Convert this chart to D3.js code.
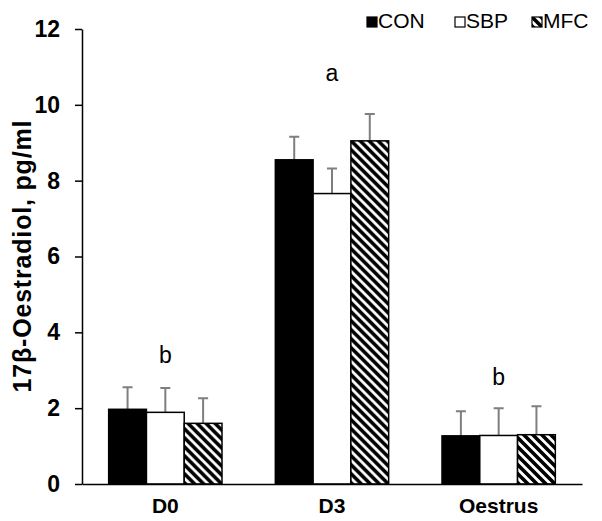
<!DOCTYPE html>
<html>
<head>
<meta charset="utf-8">
<script src="https://cdn.jsdelivr.net/npm/d3@7"></script>
<style>
  body { margin: 0; background: #fff; }
  text { font-family: "Liberation Sans", Arial, sans-serif; }
</style>
</head>
<body>
<div id="chart"></div>
<script>
// chart data
var days = ["D0", "D3", "Oestrus"];
var groups = ["CON", "SBP", "MFC"];
var conMean = [1.97, 8.55, 1.27];
var sbpMean = [1.89, 7.66, 1.28];
var mfcMean = [1.60, 9.05, 1.30];
var conErr = [0.58, 0.61, 0.65];
var sbpErr = [0.64, 0.66, 0.72];
var mfcErr = [0.66, 0.71, 0.75];
var letters = ["b", "a", "b"];
var letterAt = [3.18, 10.63, 2.6];
var yTicks = [0, 2, 4, 6, 8, 10, 12];

var svgWidth = 602;
var svgHeight = 521;

var margin = { top: 29, right: 20, bottom: 37, left: 82 };
var width = 582 - margin.left;
var height = 484 - margin.top;

var svg = d3.select("#chart")
  .append("svg")
  .attr("width", svgWidth)
  .attr("height", svgHeight);

// hatch pattern for MFC
var defs = svg.append("defs");
var pat = defs.append("pattern")
  .attr("id", "hatch")
  .attr("patternUnits", "userSpaceOnUse")
  .attr("width", 9)
  .attr("height", 9);
pat.append("rect").attr("width", 9).attr("height", 9).attr("fill", "#fff");
pat.append("path")
  .attr("d", "M-2,-2 L11,11 M-2,7 L2,11 M7,-2 L11,2")
  .attr("stroke", "#000")
  .attr("stroke-width", 3.6);

var chartGroup = svg.append("g")
  .attr("transform", `translate(${margin.left}, ${margin.top})`);

var fills = { CON: "#000", SBP: "#fff", MFC: "url(#hatch)" };

var rows = days.map(function(d, i) {
  return {
    day: d,
    values: [
      { key: "CON", mean: conMean[i], err: conErr[i] },
      { key: "SBP", mean: sbpMean[i], err: sbpErr[i] },
      { key: "MFC", mean: mfcMean[i], err: mfcErr[i] }
    ]
  };
});

var x0 = d3.scaleBand()
  .domain(days)
  .range([0, width])
  .paddingInner(0.32)
  .paddingOuter(0.16);

var x1 = d3.scaleBand()
  .domain(groups)
  .range([0, x0.bandwidth()]);

var y = d3.scaleLinear()
  .domain([0, 12])
  .range([height, 0]);

// y axis
var leftAxis = d3.axisLeft(y)
  .tickValues(yTicks)
  .tickSize(7)
  .tickPadding(15)
  .tickSizeOuter(0);

var yAxis = chartGroup.append("g").call(leftAxis);
yAxis.select(".domain").attr("stroke", "#000").attr("stroke-width", 1.5);
yAxis.selectAll(".tick line").attr("stroke", "#000").attr("stroke-width", 1.5);
yAxis.selectAll(".tick text")
  .attr("fill", "#000")
  .style("font-size", "23px")
  .style("font-weight", "bold")
  .style("font-family", "'Liberation Sans', Arial, sans-serif");

// bars
var dayGroups = chartGroup.selectAll(".day")
  .data(rows)
  .enter()
  .append("g")
  .attr("class", "day")
  .attr("transform", d => `translate(${x0(d.day)},0)`);

// error bars (upper only)
dayGroups.selectAll(".err")
  .data(d => d.values)
  .enter()
  .append("path")
  .attr("d", function(d) {
    var cx = x1(d.key) + x1.bandwidth() / 2;
    var top = y(d.mean + d.err);
    return `M${cx},${y(d.mean)}V${top}M${cx - 5},${top}H${cx + 5}`;
  })
  .attr("fill", "none")
  .attr("stroke", "#7f7f7f")
  .attr("stroke-width", 2);

dayGroups.selectAll("rect")
  .data(d => d.values)
  .enter()
  .append("rect")
  .attr("x", d => x1(d.key))
  .attr("y", d => y(d.mean))
  .attr("width", x1.bandwidth())
  .attr("height", d => height - y(d.mean))
  .attr("fill", d => fills[d.key])
  .attr("stroke", "#000")
  .attr("stroke-width", 1.5);

// x axis
var bottomAxis = d3.axisBottom(x0).tickSize(0).tickPadding(14);
var xAxis = chartGroup.append("g")
  .attr("transform", `translate(0, ${height})`)
  .call(bottomAxis);
xAxis.select(".domain").attr("stroke", "#000").attr("stroke-width", 1.5);
xAxis.selectAll(".tick text")
  .attr("fill", "#000")
  .style("font-size", "21px")
  .style("font-weight", "bold")
  .style("font-family", "'Liberation Sans', Arial, sans-serif");

// significance letters
chartGroup.selectAll(".letter")
  .data(days)
  .enter()
  .append("text")
  .attr("class", "letter")
  .attr("x", d => x0(d) + x0.bandwidth() / 2)
  .attr("y", (d, i) => y(letterAt[i]))
  .attr("text-anchor", "middle")
  .style("font-size", "23px")
  .text((d, i) => letters[i]);

// y axis title
svg.append("text")
  .attr("transform", `translate(31, ${margin.top + height / 2}) rotate(-90)`)
  .attr("text-anchor", "middle")
  .style("font-size", "25px")
  .style("font-weight", "bold")
  .attr("textLength", 272)
  .attr("lengthAdjust", "spacing")
  .text("17β-Oestradiol, pg/ml");

// legend
var legendX = [367, 455, 532];
var legend = svg.selectAll(".legend")
  .data(groups)
  .enter()
  .append("g")
  .attr("class", "legend")
  .attr("transform", (d, i) => `translate(${legendX[i]}, 17)`);

legend.append("rect")
  .attr("width", 10)
  .attr("height", 10)
  .attr("fill", d => fills[d])
  .attr("stroke", "#000")
  .attr("stroke-width", 1.2);

legend.append("text")
  .attr("x", 11)
  .attr("y", 11)
  .style("font-size", "21px")
  .text(d => d);
</script>
</body>
</html>
